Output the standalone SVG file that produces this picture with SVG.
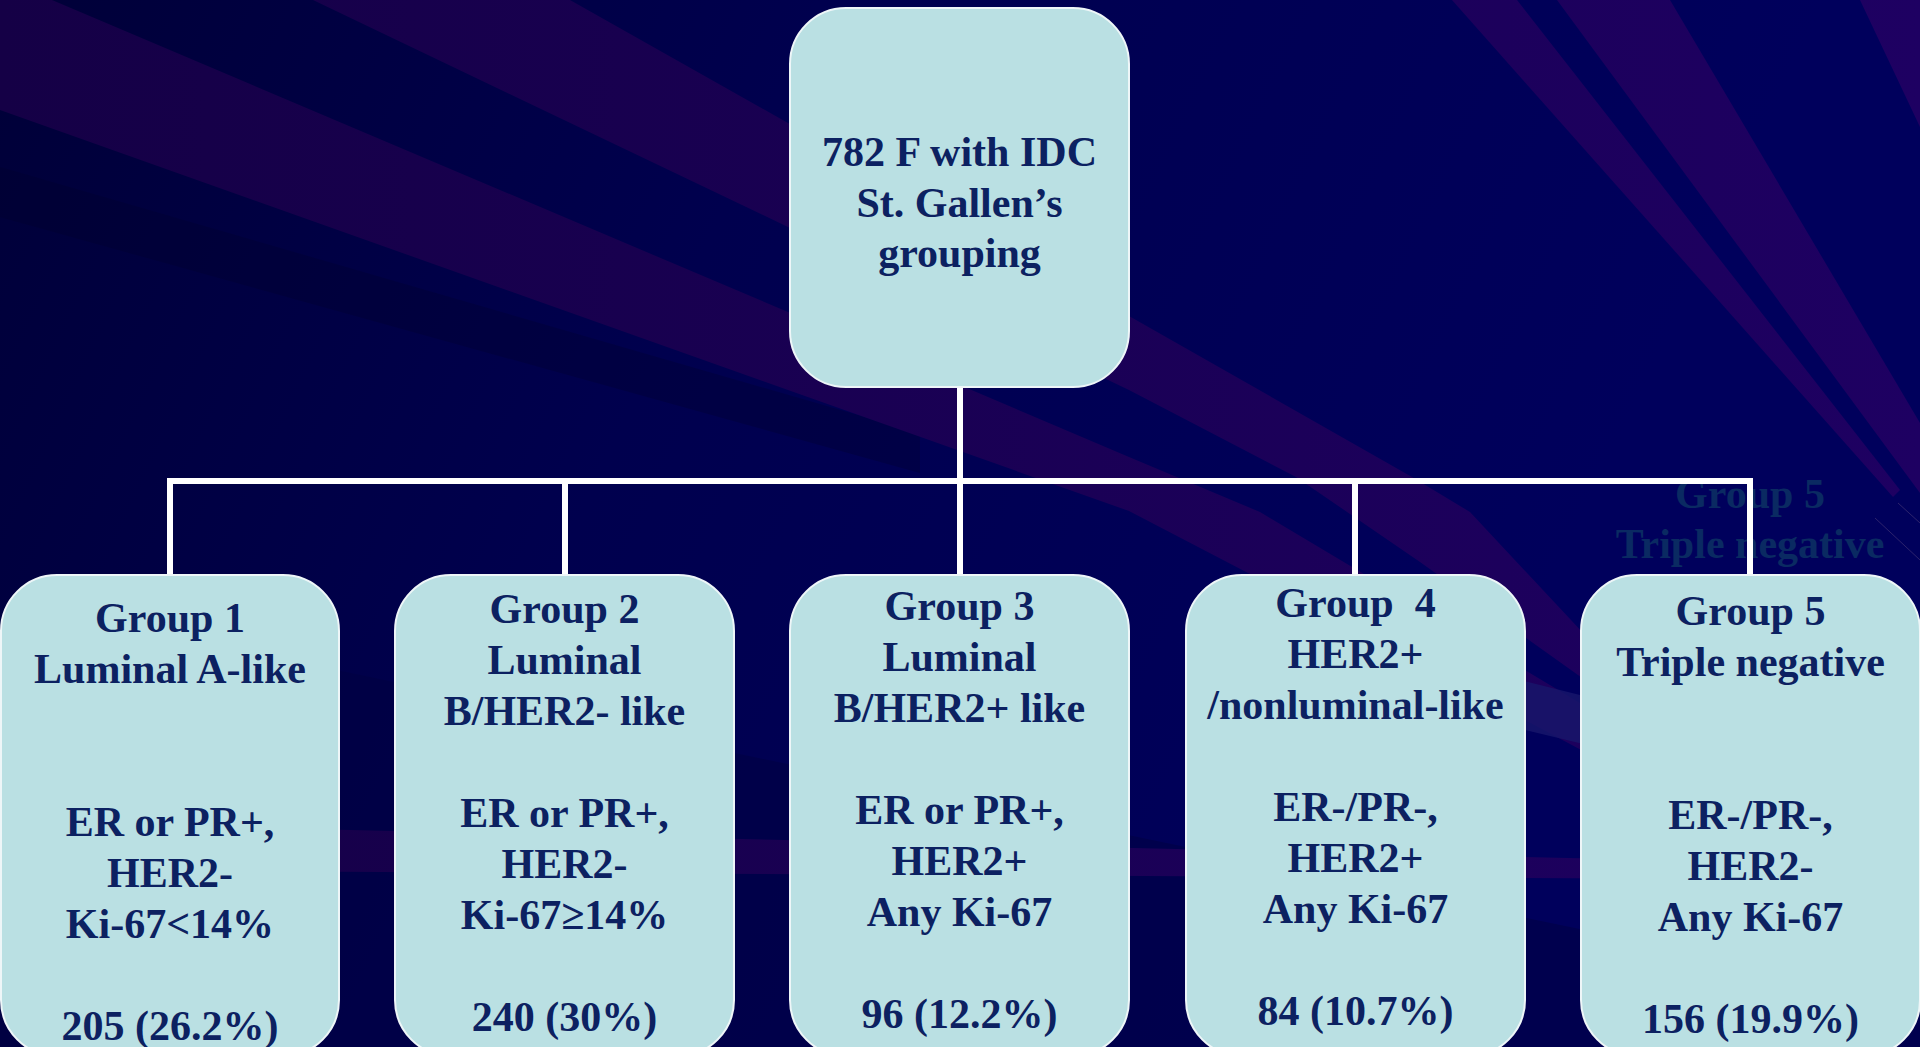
<svg xmlns="http://www.w3.org/2000/svg" width="1920" height="1047" viewBox="0 0 1920 1047">
<defs>
<linearGradient id="bg" gradientUnits="userSpaceOnUse" x1="0" y1="0" x2="1500" y2="700">
<stop offset="0" stop-color="#000038"/>
<stop offset="0.45" stop-color="#00004e"/>
<stop offset="1" stop-color="#00005c"/>
</linearGradient>
<linearGradient id="pur" gradientUnits="userSpaceOnUse" x1="0" y1="0" x2="1920" y2="0">
<stop offset="0" stop-color="#150046"/>
<stop offset="1" stop-color="#1e0062"/>
</linearGradient>
<style>
.t{font-family:"Liberation Serif","Times New Roman",serif;font-weight:bold;font-size:42px;fill:#0c2161;text-anchor:middle}
.ghost{font-family:"Liberation Serif","Times New Roman",serif;font-weight:bold;font-size:42px;fill:#0a2a62;text-anchor:middle}
.box{fill:#bae0e3;stroke:#eef6f8;stroke-width:2}
.band{fill:url(#pur)}
.conn{fill:none;stroke:#ffffff;stroke-width:6;stroke-linejoin:miter;stroke-linecap:butt}
</style>
</defs>
<g id="background">
<rect x="0" y="0" width="1920" height="1047" fill="url(#bg)"/>
<path d="M0,167 L920,433 L920,473 L0,217 Z" fill="#00002c" opacity="0.3"/>
<path d="M0,600 L1920,1000 L1920,1047 L0,1047 Z" fill="#000040" opacity="0.5"/>
<path class="band" d="M313,0 L570,0 L788,123 L1129,316 L1412,477 L1470,512 L1585,635 L1585,680 L1420,562 L1296,477 L1129,390 L788,227 Z"/>
<path class="band" d="M0,0 L52,0 L788,312 L1129,457 L1260,512 L1600,715 L1600,760 L1300,600 L1129,511 L788,390 L0,110 Z"/>
<path class="band" d="M1452,0 L1517,0 L1900,490 L1893,497 Z"/>
<path class="band" d="M1557,0 L1670,0 L1920,423 L1920,493 Z"/>
<path class="band" d="M1860,0 L1920,0 L1920,127 Z"/>
<path class="band" d="M0,822 L1920,866 L1920,880 L0,870 Z"/>
<path d="M1400,650 L1600,700 L1600,748 L1400,700 Z" fill="#18166c" opacity="0.8"/>
<path d="M1875,518 L1920,560 M1898,503 L1920,523" stroke="#4a3a7a" stroke-width="1" opacity="0.6" fill="none"/>
<text class="ghost" x="1750" y="508">Group 5</text>
<text class="ghost" x="1750" y="558">Triple negative</text>
</g>
<g id="connectors">
<path class="conn" d="M960,387 V481"/>
<path class="conn" d="M170,575 V481 H1750 V575"/>
<path class="conn" d="M565,481 V575"/>
<path class="conn" d="M960,481 V575"/>
<path class="conn" d="M1355,481 V575"/>
</g>
<g id="root">
<rect class="box" x="790" y="8" width="339" height="379" rx="56"/>
<text class="t" x="959.5" y="166">782 F with IDC</text>
<text class="t" x="959.5" y="217">St. Gallen’s</text>
<text class="t" x="959.5" y="267">grouping</text>
</g>
<g id="group1">
<rect class="box" x="1" y="575" width="338" height="481" rx="56"/>
<text class="t" x="170" y="632">Group 1</text>
<text class="t" x="170" y="683">Luminal A-like</text>
<text class="t" x="170" y="836">ER or PR+,</text>
<text class="t" x="170" y="887">HER2-</text>
<text class="t" x="170" y="938">Ki-67&lt;14%</text>
<text class="t" x="170" y="1040">205 (26.2%)</text>
</g>
<g id="group2">
<rect class="box" x="395" y="575" width="339" height="481" rx="56"/>
<text class="t" x="564.5" y="623">Group 2</text>
<text class="t" x="564.5" y="674">Luminal</text>
<text class="t" x="564.5" y="725">B/HER2- like</text>
<text class="t" x="564.5" y="827">ER or PR+,</text>
<text class="t" x="564.5" y="878">HER2-</text>
<text class="t" x="564.5" y="929">Ki-67≥14%</text>
<text class="t" x="564.5" y="1031">240 (30%)</text>
</g>
<g id="group3">
<rect class="box" x="790" y="575" width="339" height="481" rx="56"/>
<text class="t" x="959.5" y="620">Group 3</text>
<text class="t" x="959.5" y="671">Luminal</text>
<text class="t" x="959.5" y="722">B/HER2+ like</text>
<text class="t" x="959.5" y="824">ER or PR+,</text>
<text class="t" x="959.5" y="875">HER2+</text>
<text class="t" x="959.5" y="926">Any Ki-67</text>
<text class="t" x="959.5" y="1028">96 (12.2%)</text>
</g>
<g id="group4">
<rect class="box" x="1186" y="575" width="339" height="481" rx="56"/>
<text class="t" x="1355.5" y="617" xml:space="preserve">Group  4</text>
<text class="t" x="1355.5" y="668">HER2+</text>
<text class="t" x="1355.5" y="719">/nonluminal-like</text>
<text class="t" x="1355.5" y="821">ER-/PR-,</text>
<text class="t" x="1355.5" y="872">HER2+</text>
<text class="t" x="1355.5" y="923">Any Ki-67</text>
<text class="t" x="1355.5" y="1025">84 (10.7%)</text>
</g>
<g id="group5">
<rect class="box" x="1581" y="575" width="339" height="481" rx="56"/>
<text class="t" x="1750.5" y="625">Group 5</text>
<text class="t" x="1750.5" y="676">Triple negative</text>
<text class="t" x="1750.5" y="829">ER-/PR-,</text>
<text class="t" x="1750.5" y="880">HER2-</text>
<text class="t" x="1750.5" y="931">Any Ki-67</text>
<text class="t" x="1750.5" y="1033">156 (19.9%)</text>
</g>
</svg>
